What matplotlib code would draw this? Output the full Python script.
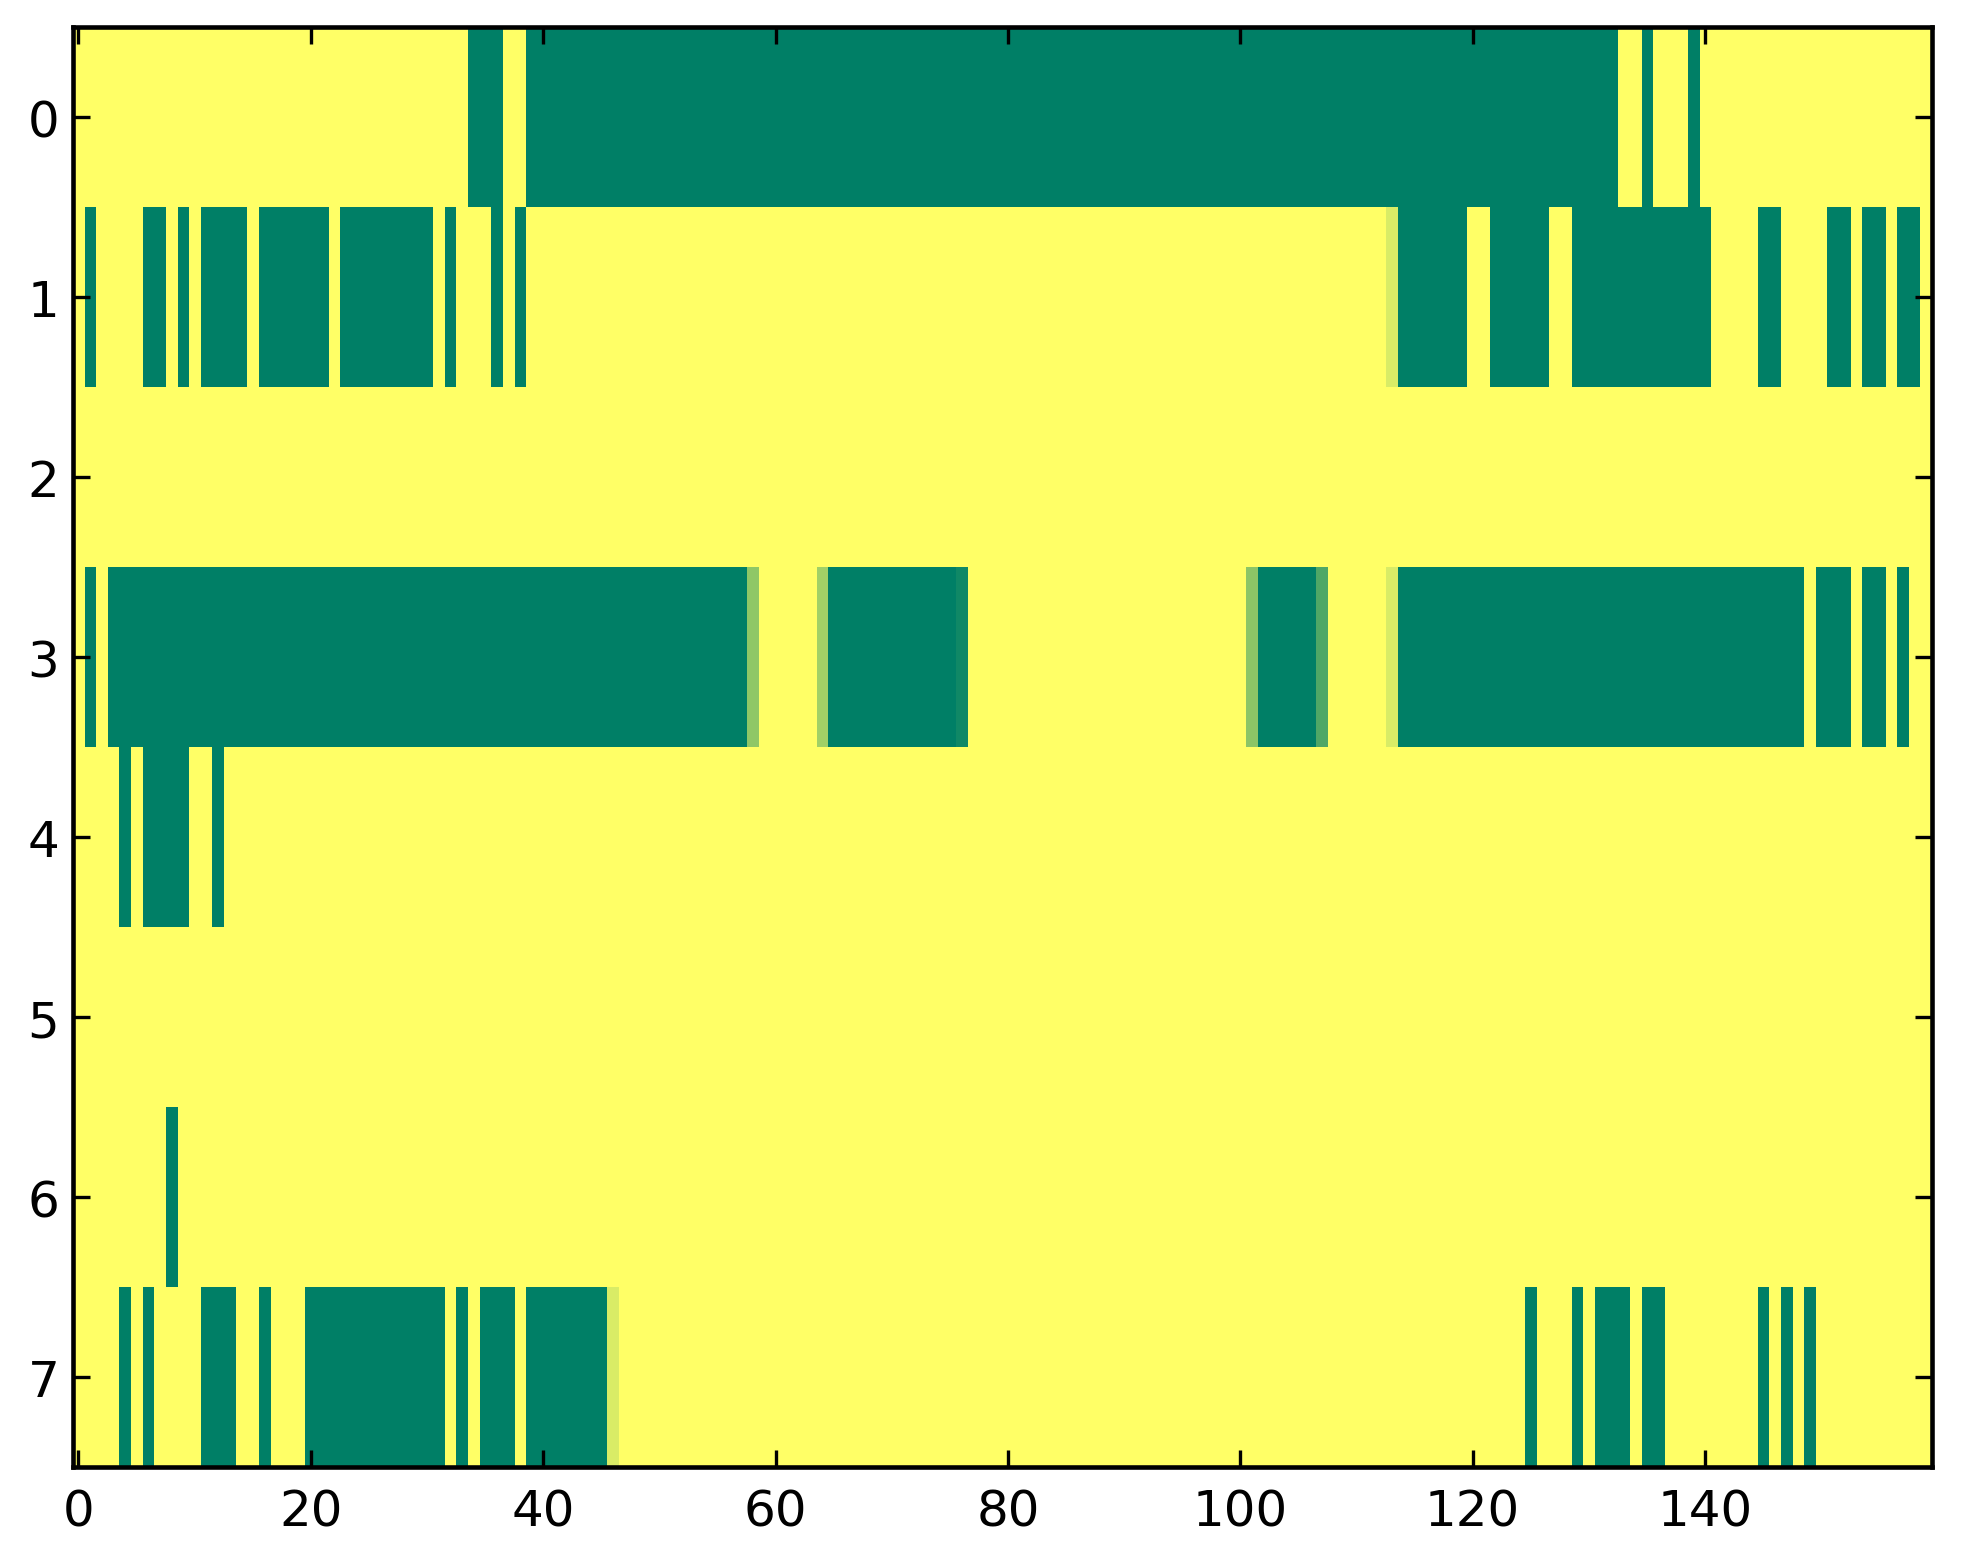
import numpy as np
import matplotlib
matplotlib.use("Agg")
import matplotlib.pyplot as plt

n_rows = 8
n_cols = 160

# Runs of fully "on" (green) cells per row, as (first_col, last_col) inclusive
row0_runs = [(34, 36), (39, 132), (135, 135), (139, 139)]
row1_runs = [(1, 1), (6, 7), (9, 9), (11, 14), (16, 21), (23, 30), (32, 32),
             (36, 36), (38, 38), (114, 119), (122, 126), (129, 140),
             (145, 146), (151, 152), (154, 155), (157, 158)]
row2_runs = []
row3_runs = [(1, 1), (3, 57), (65, 75), (102, 106), (114, 148), (150, 152),
             (154, 155), (157, 157)]
row4_runs = [(4, 4), (6, 9), (12, 12)]
row5_runs = []
row6_runs = [(8, 8)]
row7_runs = [(4, 4), (6, 6), (11, 13), (16, 16), (20, 31), (33, 33), (35, 37),
             (39, 45), (125, 125), (129, 129), (131, 133), (135, 136),
             (145, 145), (147, 147), (149, 149)]

# Cells with intermediate values: (row, col, value)
partial_cells = [(1, 113, 0.15),
                 (3, 58, 0.44), (3, 64, 0.37), (3, 76, 0.93),
                 (3, 101, 0.45), (3, 107, 0.69), (3, 113, 0.15),
                 (7, 46, 0.15)]

all_runs = [row0_runs, row1_runs, row2_runs, row3_runs,
            row4_runs, row5_runs, row6_runs, row7_runs]

data = np.zeros((n_rows, n_cols))
for r, runs in enumerate(all_runs):
    for a, b in runs:
        data[r, a:b + 1] = 1.0
for r, c, v in partial_cells:
    data[r, c] = v

plt.rcParams['font.family'] = ['DejaVu Sans']
plt.rcParams['font.size'] = 12

fig = plt.figure(figsize=(1963 / 300, 1564 / 300), dpi=300)
ax = fig.add_axes([0.037, 0.0614, 0.947, 0.9204])
ax.imshow(data, cmap='summer_r', vmin=0, vmax=1, aspect='auto',
          interpolation='nearest')
ax.set_xticks(np.arange(0, 160, 20))
ax.set_yticks(np.arange(0, 8, 1))
ax.set_xlim(-0.5, 159.5)
ax.set_ylim(7.5, -0.5)
ax.tick_params(direction='in', top=True, right=True, length=4, width=0.8,
               labelsize=12)
ax.tick_params(axis='x', pad=5)
ax.tick_params(axis='y', pad=3.2)
for s in ax.spines.values():
    s.set_linewidth(1.1)

fig.savefig('out.png', dpi=300)
